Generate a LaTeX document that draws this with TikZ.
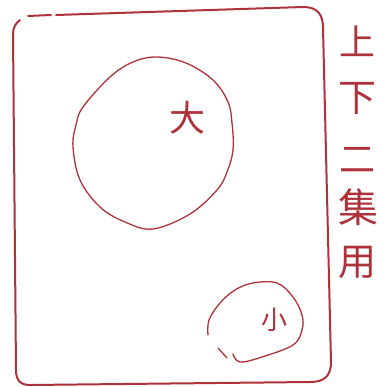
\documentclass[tikz,border=0pt]{standalone}
\usepackage{fontspec}
\newfontfamily\cjk{Noto Sans CJK SC}
\definecolor{ink}{RGB}{174,50,58}
\begin{document}
\begin{tikzpicture}[x=1pt,y=-1pt,
  pen/.style={draw=ink,line cap=round,line join=round},
  frame/.style={pen,line width=2pt},
  loop/.style={pen,line width=1.3pt},
  glyph/.style={text=ink,inner sep=0pt,font=\cjk\fontsize{#1}{#1}\selectfont}]
\useasboundingbox (0,0) rectangle (387,387);
% frame
\draw[frame] (28,16) -- (51,15);
\draw[frame] (56,15) -- (303,7) .. controls (318,7) and (323,15) .. (323,28)
  -- (331,362) .. controls (331,378) and (322,382) .. (310,382)
  -- (30,385) .. controls (20,385) and (16,380) .. (16,370)
  -- (13,34) .. controls (13,27) and (16,23) .. (20,20);
% big circle
\draw[loop] plot[smooth cycle,tension=0.6] coordinates {
  (157,57) (186,63) (213,80) (228,102) (232,123) (233,150) (227,172) (217,190)
  (190,214) (153,229) (125,222) (100,207) (80,180) (73,147) (76,125) (83,107)
  (110,77) (133,62)};
\node[glyph=36] (big) at (187,118) {大};
% small circle
\draw[loop] plot[smooth,tension=0.6] coordinates {
  (208,335) (209,320) (220,303) (235,290) (253,283) (277,283) (293,297)
  (302,315) (302,330) (293,345) (262,357) (240,362) (233,354)};
\draw[loop] (218,348) -- (227,358);
\node[glyph=26] (small) at (274,320) {小};
% vertical caption
\node[glyph=36] (c1) at (357,41) {上};
\node[glyph=38] (c2) at (357,98) {下};
\node[glyph=36] (c3) at (357,160) {二};
\node[glyph=40] (c4) at (358,207) {集};
\node[glyph=38] (c5) at (357,262) {用};
\end{tikzpicture}
\end{document}
